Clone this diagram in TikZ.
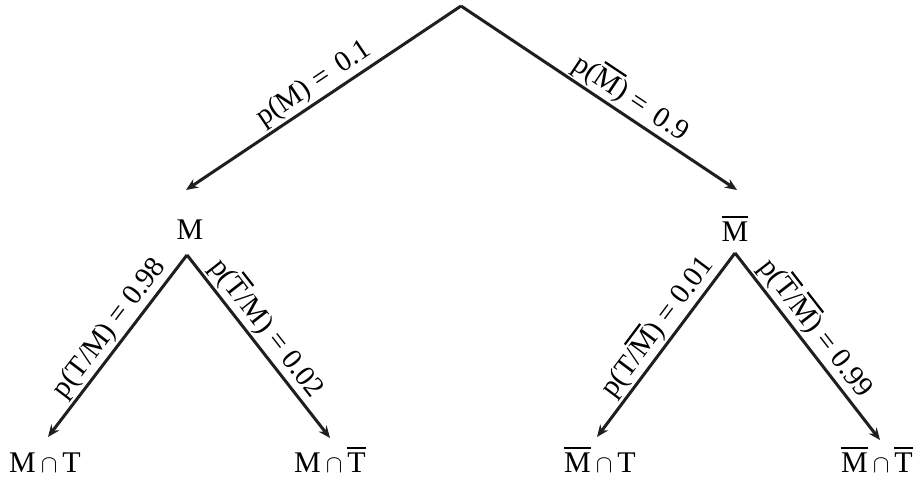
\documentclass[tikz,border=0pt]{standalone}
\usepackage{fontspec}
\setmainfont{Liberation Serif}
\usetikzlibrary{arrows.meta}
\newcommand{\ovl}[1]{\vbox{\hrule height 2.2pt\kern 3.5pt\hbox{#1}}}
\newcommand{\olM}{\ovl{M}}
\newcommand{\olT}{\ovl{T}}

\begin{document}
\begin{tikzpicture}[
  x=1pt, y=-1pt,
  state/.style={font=\fontsize{30}{36}\selectfont, inner sep=0pt},
  prob/.style={font=\fontsize{29}{34}\selectfont, sloped, above, inner sep=2pt},
  arr/.style={-{Stealth[length=12pt,width=10pt]}, line width=3pt, draw=black!88},
]
\useasboundingbox (0,0) rectangle (917,478);

% Junction points
\coordinate (top) at (461,6);
\coordinate (M-in) at (186,190);
\coordinate (Mb-in) at (737,190);
\coordinate (M-out) at (187,255);
\coordinate (Mb-out) at (735,253);
\coordinate (MT-in) at (48,437);
\coordinate (MTb-in) at (330,438);
\coordinate (MbT-in) at (597,437);
\coordinate (MbTb-in) at (880,440);

% States
\node[state] (M) at (190,230) {M};
\node[state, anchor=base] (Mb) at (735,241) {\olM};
\node[state, anchor=base] (MT) at (45,472) {M\,$\cap$\,T};
\node[state, anchor=base] (MTb) at (330,472) {M\,$\cap$\,\olT};
\node[state, anchor=base] (MbT) at (600,472) {\olM\,$\cap$\,T};
\node[state, anchor=base] (MbTb) at (877,472) {\olM\,$\cap$\,\olT};

% First level
\draw[arr] (top) -- node[prob, pos=0.5]{p(M) = \,0.1} (M-in);
\draw[arr] (top) -- node[prob, pos=0.58]{p(\olM) = \,0.9} (Mb-in);

% Second level
\draw[arr] (M-out) -- node[prob, pos=0.46]{p(T/M) = 0.98} (MT-in);
\draw[arr] (M-out) -- node[prob, pos=0.46]{p(\olT/M) = 0.02} (MTb-in);
\draw[arr] (Mb-out) -- node[prob, pos=0.46]{p(T/\olM) = 0.01} (MbT-in);
\draw[arr] (Mb-out) -- node[prob, pos=0.46]{p(\olT/\olM) = 0.99} (MbTb-in);
\end{tikzpicture}
\end{document}
